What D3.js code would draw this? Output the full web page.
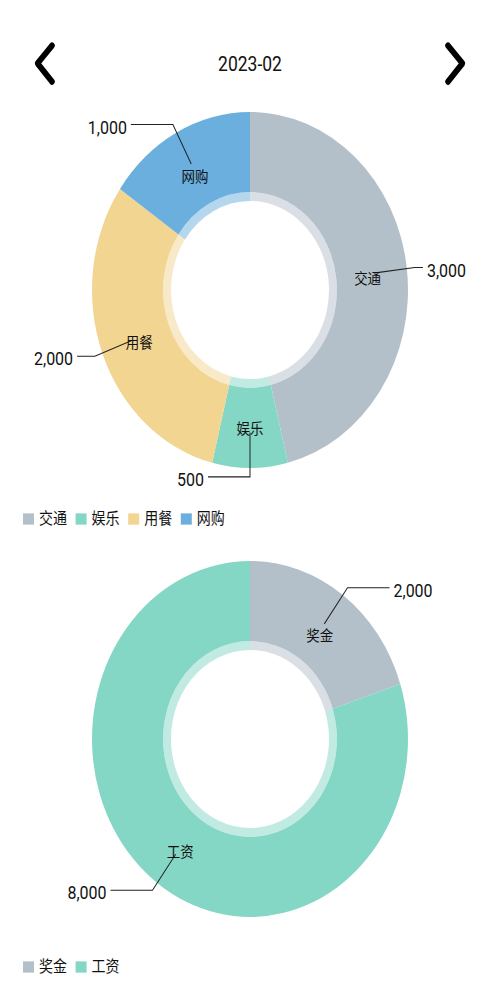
<!DOCTYPE html>
<html>
<head>
<meta charset="utf-8">
<script src="https://cdn.jsdelivr.net/npm/d3@7/dist/d3.min.js"></script>
<style>
  html, body { margin: 0; padding: 0; background: #fff; }
  svg { display: block; }
  text { font-family: Roboto, "Noto Sans CJK SC", sans-serif; fill: #111; }
</style>
</head>
<body>
<div id="chart"></div>
<script>
// month shown in the header
const month = "2023-02"

// expense chart
const expenseNames = ["交通", "娱乐", "用餐", "网购"]
const expenseValues = [3000, 500, 2000, 1000]
const expenseColors = ["#b4c0c9", "#84d7c5", "#f1d591", "#6aafdd"]

// income chart
const incomeNames = ["奖金", "工资"]
const incomeValues = [2000, 8000]
const incomeColors = ["#b4c0c9", "#84d7c5"]

const width = 500
const height = 1000
const sy = 1.1266 // the screenshot is stretched vertically

const svg = d3.select("#chart").append("svg")
    .attr("width", width)
    .attr("height", height)

const root = svg.append("g").attr("transform", `scale(1, ${sy})`)

// header
root.append("text")
    .attr("x", width / 2)
    .attr("y", 57.5)
    .attr("text-anchor", "middle")
    .attr("dominant-baseline", "central")
    .style("font-size", "17.5px")
    .text(month)

const chevron = (pts) => root.append("path")
    .attr("d", d3.line()(pts))
    .attr("fill", "none")
    .attr("stroke", "#000")
    .attr("stroke-width", 5.5)
    .attr("stroke-linecap", "round")
    .attr("stroke-linejoin", "round")

chevron([[52, 40.5], [37.5, 56.3], [52, 72.5]])
chevron([[448, 40.5], [462.5, 56.3], [448, 72.5]])

const fmt = d3.format(",")

function drawDonut(names, values, colors, cy, legendY) {
    const cx = width / 2
    const R = 158
    const rHole = R * 0.5
    const rRing = R * 0.55

    const data = names.map((n, i) => ({ name: n, value: values[i], color: colors[i] }))
    const arcs = d3.pie().sort(null).value(d => d.value)(data)

    const g = root.append("g").attr("transform", `translate(${cx},${cy})`)

    const outerArc = d3.arc().innerRadius(rRing).outerRadius(R)
    const ringArc = d3.arc().innerRadius(rHole).outerRadius(rRing)

    g.selectAll("path.slice")
        .data(arcs)
        .join("path")
        .attr("class", "slice")
        .attr("d", outerArc)
        .attr("fill", d => d.data.color)

    g.selectAll("path.ring")
        .data(arcs)
        .join("path")
        .attr("class", "ring")
        .attr("d", ringArc)
        .attr("fill", d => d.data.color)
        .attr("fill-opacity", 0.5)

    const pt = (a, r) => [r * Math.sin(a), -r * Math.cos(a)]

    arcs.forEach(d => {
        const mid = (d.startAngle + d.endAngle) / 2
        const right = Math.sin(mid) > 1e-6
        const start = pt(mid, R * 0.8)
        const elbow = pt(mid, R * 1.05)

        const valueText = g.append("text")
            .attr("dominant-baseline", "central")
            .style("font-size", "16px")
            .text(fmt(d.data.value))
        const w = valueText.node().getComputedTextLength()

        let endX
        if (right) {
            endX = Math.min(elbow[0] + 42, (width - 34 - cx) - w - 4)
        } else {
            endX = Math.max(elbow[0] - 42, (34 - cx) + w + 4)
        }

        g.append("path")
            .attr("d", d3.line()([start, elbow, [endX, elbow[1]]]))
            .attr("fill", "none")
            .attr("stroke", "#222")
            .attr("stroke-width", 1)

        valueText
            .attr("x", right ? endX + 4 : endX - 4)
            .attr("y", elbow[1] + 2.5)
            .attr("text-anchor", right ? "start" : "end")

        const c = pt(mid, R * 0.75)
        g.append("text")
            .attr("x", c[0])
            .attr("y", c[1] + 5)
            .attr("text-anchor", "middle")
            .attr("dominant-baseline", "central")
            .style("font-size", "13.5px")
            .text(d.data.name)
    })

    // legend
    const legend = root.append("g").attr("transform", `translate(23,${legendY})`)
    const item = legend.selectAll("g")
        .data(data)
        .join("g")
        .attr("transform", (d, i) => `translate(${i * 52.6},0)`)
    item.append("rect")
        .attr("x", 0)
        .attr("y", -5)
        .attr("width", 11)
        .attr("height", 10)
        .attr("fill", d => d.color)
    item.append("text")
        .attr("x", 16)
        .attr("y", 0)
        .attr("dominant-baseline", "central")
        .style("font-size", "14px")
        .text(d => d.name)
}

drawDonut(expenseNames, expenseValues, expenseColors, 290 / sy, 519 / sy)
drawDonut(incomeNames, incomeValues, incomeColors, 739 / sy, 967 / sy)
</script>
</body>
</html>
